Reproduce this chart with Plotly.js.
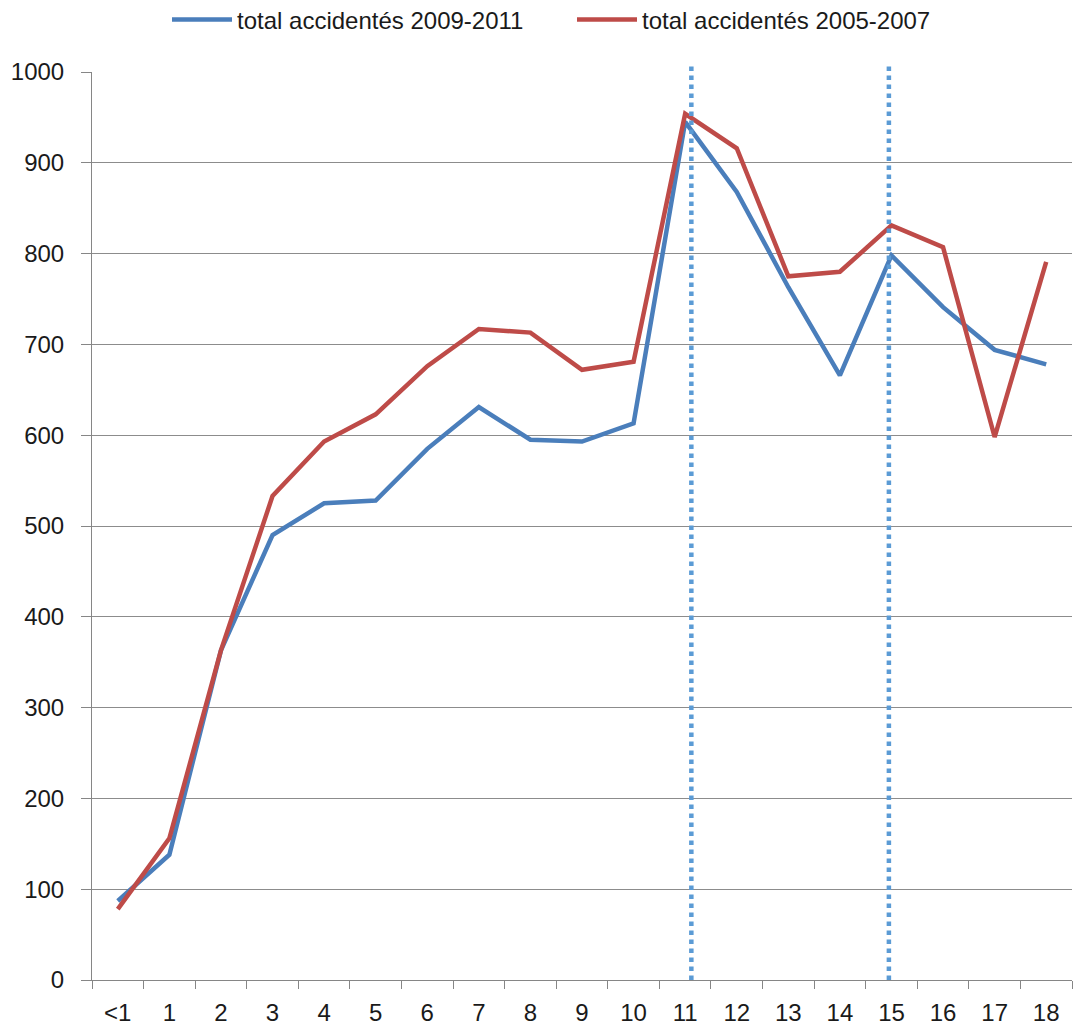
<!DOCTYPE html>
<html>
<head>
<meta charset="utf-8">
<script src="https://cdn.plot.ly/plotly-3.0.1.min.js"></script>
<style>html,body{margin:0;padding:0;background:#fff;}#chart{width:1078px;height:1026px;}</style>
</head>
<body>
<div id="chart"></div>
<script>
const categories = ["<1","1","2","3","4","5","6","7","8","9","10","11","12","13","14","15","16","17","18"];
const total2009_2011 = [87,138,363,490,525,528,585,631,595,593,613,945,868,763,666,798,741,694,678];
const total2005_2007 = [78,156,363,533,593,623,676,717,713,672,681,954,916,775,780,831,807,598,791];
const seriesNames = ["total accidentés 2009-2011","total accidentés 2005-2007"];
const markerCategories = ["11","15"];
const yTicks = [0,100,200,300,400,500,600,700,800,900,1000];

const font = "Liberation Sans, Arial, sans-serif";
const traces = [
  {x: categories, y: total2009_2011, name: seriesNames[0], type: "scatter", mode: "lines",
   line: {color: "#4a7ebb", width: 4.5}},
  {x: categories, y: total2005_2007, name: seriesNames[1], type: "scatter", mode: "lines",
   line: {color: "#be4b48", width: 4.5}}
];
const shapes = markerCategories.map((c, i) => ({
  type: "line", xref: "x", yref: "paper",
  x0: categories.indexOf(c) + (i === 0 ? 0.12 : -0.05),
  x1: categories.indexOf(c) + (i === 0 ? 0.12 : -0.05),
  y0: 0, y1: 1.011,
  line: {color: "#5b9bd5", width: 4.5, dash: "dot"}
}));
const layout = {
  width: 1078, height: 1026,
  margin: {l: 92, r: 6, t: 72, b: 46, autoexpand: false},
  paper_bgcolor: "#fff", plot_bgcolor: "#fff",
  font: {family: font, size: 24, color: "#1a1a1a"},
  showlegend: true,
  legend: {orientation: "h", xref: "container", yref: "container",
           x: 167/1078, xanchor: "left", y: 1 - 20/1026, yanchor: "middle",
           font: {family: font, size: 24, color: "#1a1a1a"}, itemwidth: 60,
           entrywidth: 330, entrywidthmode: "pixels",
           tracegroupgap: 0, bgcolor: "rgba(0,0,0,0)"},
  xaxis: {type: "category", range: [-0.5, 18.5], showgrid: false, zeroline: false,
          showline: true, linecolor: "#868686", linewidth: 1, automargin: false,
          ticks: "outside", tickson: "boundaries", ticklen: 8, tickcolor: "#868686",
          ticklabelstandoff: 11,
          tickfont: {family: font, size: 24, color: "#1a1a1a"}, fixedrange: true},
  yaxis: {range: [0, 1000], tickvals: yTicks, ticktext: yTicks.map(String),
          showgrid: true, gridcolor: "#8c8c8c", gridwidth: 1, zeroline: false,
          showline: true, linecolor: "#868686", linewidth: 1, automargin: false,
          ticks: "outside", ticklen: 10, tickcolor: "#868686",
          ticklabelstandoff: 12,
          tickfont: {family: font, size: 24, color: "#1a1a1a"}, fixedrange: true},
  shapes: shapes
};
Plotly.newPlot("chart", traces, layout, {displayModeBar: false, staticPlot: true});
</script>
</body>
</html>
